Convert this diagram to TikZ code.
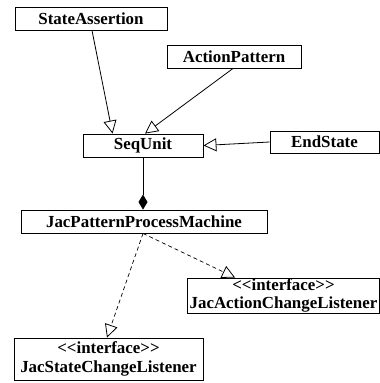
\documentclass[tikz,border=0pt]{standalone}
\usepackage{fontspec}
\setmainfont{Liberation Serif}
\usetikzlibrary{arrows.meta,calc}
\begin{document}
\begin{tikzpicture}[x=1pt,y=-1pt,
  classbox/.style={draw,line width=0.9pt,inner sep=0pt,align=center,
    font=\fontsize{16.9}{17.5}\selectfont\bfseries},
  generalize/.style={line width=0.8pt,-{Triangle[open,length=13pt,width=13pt,line width=0.8pt]}},
  realize/.style={line width=0.7pt,dash pattern=on 4pt off 3pt,
    -{Triangle[open,length=13pt,width=13pt,line width=0.8pt,sep=0pt]}},
  compose/.style={line width=0.8pt,-{Diamond[length=15pt,width=9pt]}}]
  \useasboundingbox (0,0) rectangle (380,383);

  % classes
  \node[classbox,minimum width=152pt,minimum height=23pt] (sa) at (91,18.5) {StateAssertion};
  \node[classbox,minimum width=134pt,minimum height=23pt] (ap) at (234,56.5) {ActionPattern};
  \node[classbox,minimum width=120pt,minimum height=23pt] (su) at (143,145.5) {SeqUnit};
  \node[classbox,minimum width=109pt,minimum height=22pt] (es) at (324.5,142) {EndState};
  \node[classbox,minimum width=246pt,minimum height=23pt] (jpm) at (144,221.5) {JacPatternProcessMachine};
  \node[classbox,minimum width=192pt,minimum height=35pt] (acl) at (283.5,295.5)
    {<{}<interface>{}>\\JacActionChangeListener};
  \node[classbox,minimum width=189pt,minimum height=42pt] (scl) at (108.5,359)
    {<{}<interface>{}>\\[2pt]JacStateChangeListener};

  % generalizations into SeqUnit
  \draw[generalize] ($(sa.south)+(1,0)$) -- ($(su.north west)+(30,0)$);
  \draw[generalize] ($(ap.south)+(-1,0)$) -- ($(su.north)+(2,0)$);
  \draw[generalize] (es.west) -- (su.east);

  % composition
  \draw[compose] (su.south) -- (su.south |- jpm.north);

  % interface realizations
  \draw[realize] ($(jpm.south)+(-1,0)$) -- ($(scl.north)+(-1.5,0)$);
  \draw[realize] ($(jpm.south)+(-1,0)$) -- ($(acl.north west)+(48,0)$);
\end{tikzpicture}
\end{document}
